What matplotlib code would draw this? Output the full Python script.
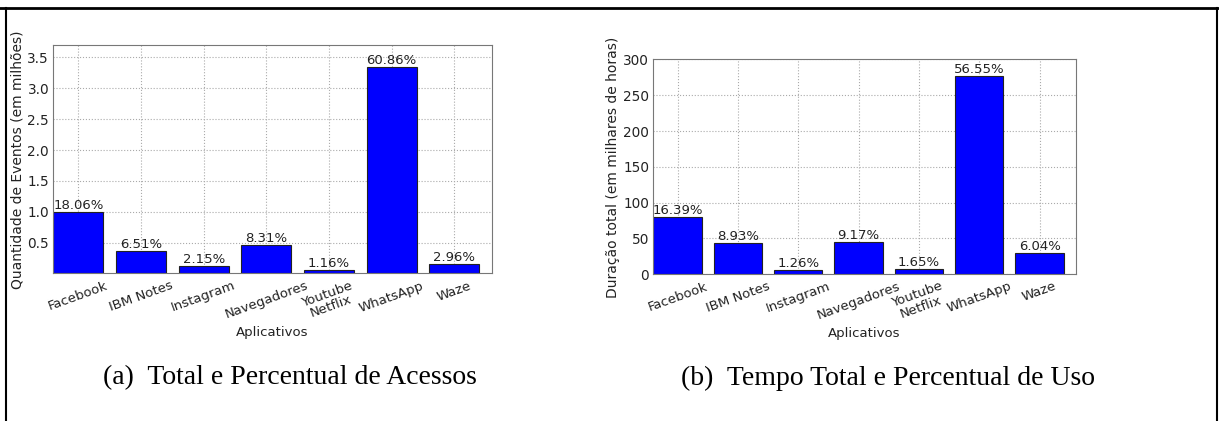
import numpy as np
import matplotlib
matplotlib.use("Agg")
import matplotlib.pyplot as plt
from matplotlib.lines import Line2D

apps = ["Facebook", "IBM Notes", "Instagram", "Navegadores", "Youtube\nNetflix", "WhatsApp", "Waze"]

# (a) quantidade de eventos, em milhoes
acessos = [1.00, 0.36, 0.12, 0.46, 0.064, 3.35, 0.16]
acessos_pct = ["18.06%", "6.51%", "2.15%", "8.31%", "1.16%", "60.86%", "2.96%"]

# (b) duracao total, em milhares de horas
duracao = [79.8, 43.5, 6.2, 44.7, 8.0, 276.5, 29.4]
duracao_pct = ["16.39%", "8.93%", "1.26%", "9.17%", "1.65%", "56.55%", "6.04%"]

plt.rcParams['font.family'] = ['DejaVu Sans']
plt.rcParams['font.size'] = 9.5


def bar_panel(ax, values, pct, ylabel, ylim, yticks, label_x):
    x = np.arange(len(values))
    ax.bar(x, values, width=0.8, align='edge', color='#0000ff',
           edgecolor='#222222', linewidth=0.8, zorder=2)
    for xi, v, p in zip(x, values, pct):
        ax.text(xi + 0.4, v, p, ha='center', va='bottom', fontsize=9.5, color='#222222')
    ax.set_xlim(0, len(values))
    ax.set_ylim(*ylim)
    ax.set_yticks(yticks)
    ax.set_xticks(x + 0.4)
    ax.set_xticklabels(apps, rotation=20, ha='center', color='#222222', linespacing=1.0)
    ax.tick_params(axis='both', length=0, pad=4, labelcolor='#222222')
    ax.tick_params(axis='y', labelsize=9.8, pad=3)
    ax.grid(True, linestyle=':', color='#aaaaaa', linewidth=0.8, zorder=0)
    ax.set_axisbelow(True)
    for s in ax.spines.values():
        s.set_color('#777777')
    ax.set_xlabel("Aplicativos", color='#222222', labelpad=3)
    ax.set_ylabel(ylabel, color='#222222', fontsize=10)
    ax.yaxis.set_label_coords(label_x, 0.5)


fig = plt.figure(figsize=(12.19, 4.21), dpi=100)

ax1 = fig.add_axes([0.0437, 0.3504, 0.3599, 0.5426])
bar_panel(ax1, acessos, acessos_pct, "Quantidade de Eventos (em milhões)",
          (0, 3.7), [0.5, 1.0, 1.5, 2.0, 2.5, 3.0, 3.5], -0.066)
ax1.set_yticklabels(["0.5", "1.0", "1.5", "2.0", "2.5", "3.0", "3.5"])

ax2 = fig.add_axes([0.536, 0.3485, 0.3465, 0.5102])
bar_panel(ax2, duracao, duracao_pct, "Duração total (em milhares de horas)",
          (0, 300), [0, 50, 100, 150, 200, 250, 300], -0.08)

# legendas das subfiguras
fig.text(0.2378, 0.102, "(a)  Total e Percentual de Acessos", ha='center', va='center',
         fontsize=20, family='Liberation Serif')
fig.text(0.7285, 0.102, "(b)  Tempo Total e Percentual de Uso", ha='center', va='center',
         fontsize=20, family='Liberation Serif')

# moldura da figura
W, H = 1219, 421
fig.add_artist(Line2D([0, 1], [1 - 8 / H, 1 - 8 / H], color='black', linewidth=2.0))
fig.add_artist(Line2D([6 / W, 6 / W], [0, 1 - 8 / H], color='black', linewidth=1.5))
fig.add_artist(Line2D([1217 / W, 1217 / W], [0, 1 - 8 / H], color='black', linewidth=1.5))

fig.savefig("out.png", dpi=100)
